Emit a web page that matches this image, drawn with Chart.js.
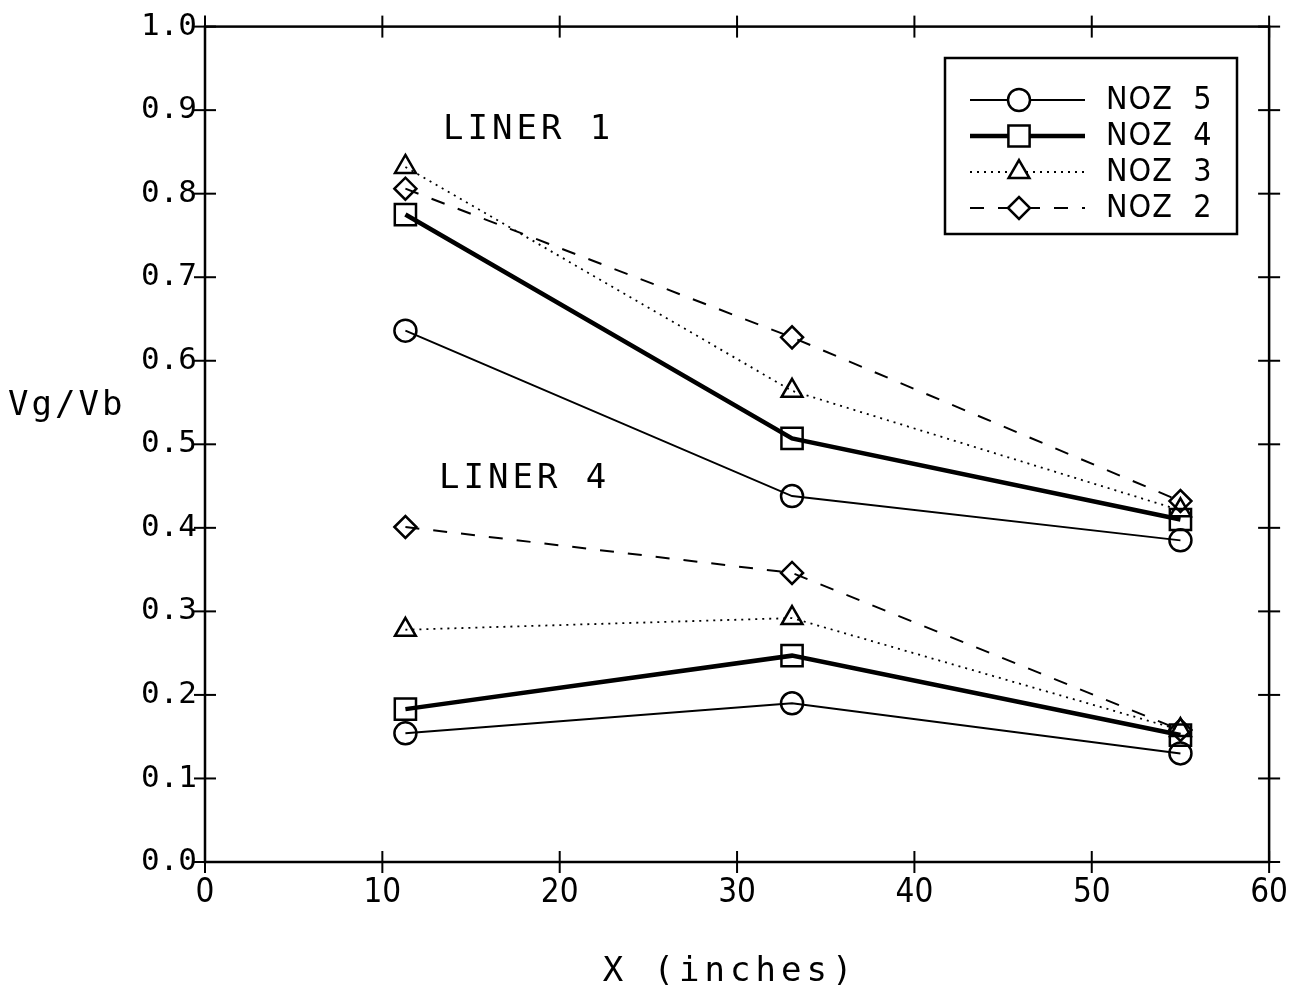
<!DOCTYPE html>
<html><head><meta charset="utf-8">
<script src="https://cdn.jsdelivr.net/npm/chart.js@4/dist/chart.umd.min.js"></script>
<style>html,body{margin:0;padding:0;background:#fff}#wrap{width:1300px;height:996px}</style>
</head><body><div id="wrap"><canvas id="c" width="1300" height="996"></canvas></div>
<script>
const xPositions = [11.3, 33.1, 55.0];
const seriesNames = ['NOZ 5', 'NOZ 4', 'NOZ 3', 'NOZ 2'];
const liner1_noz5 = [0.636, 0.438, 0.385];
const liner1_noz4 = [0.775, 0.507, 0.410];
const liner1_noz3 = [0.832, 0.564, 0.421];
const liner1_noz2 = [0.806, 0.628, 0.432];
const liner4_noz5 = [0.154, 0.190, 0.130];
const liner4_noz4 = [0.183, 0.247, 0.152];
const liner4_noz3 = [0.278, 0.292, 0.158];
const liner4_noz2 = [0.401, 0.346, 0.158];
const xTicks = [0, 10, 20, 30, 40, 50, 60];
const yTicks = [0, 0.1, 0.2, 0.3, 0.4, 0.5, 0.6, 0.7, 0.8, 0.9, 1.0];
const groupLabels = ['LINER 1', 'LINER 4'];

const styles = {
  'NOZ 5': {pointStyle: 'circle', radius: 11, borderWidth: 2, dash: []},
  'NOZ 4': {pointStyle: 'rect', radius: 15, borderWidth: 4.5, dash: []},
  'NOZ 3': {pointStyle: 'triangle', radius: 12, borderWidth: 1.8, dash: [2, 5]},
  'NOZ 2': {pointStyle: 'rectRot', radius: 11, borderWidth: 2, dash: [14, 14]}
};
function pts(vals){ return vals.map((v,i)=>({x:xPositions[i], y:v})); }
function ds(name, vals, group){
  const s = styles[name];
  return {label: name, group: group, data: pts(vals), borderColor:'#000', backgroundColor:'rgba(0,0,0,0)',
    borderWidth: s.borderWidth, borderDash: s.dash, pointStyle: s.pointStyle, pointRadius: s.radius,
    pointBorderWidth: 2.5, pointBorderColor:'#000', pointBackgroundColor:'rgba(0,0,0,0)', tension:0, fill:false};
}
const datasets = [
  ds('NOZ 5', liner1_noz5, 1), ds('NOZ 4', liner1_noz4, 1), ds('NOZ 3', liner1_noz3, 1), ds('NOZ 2', liner1_noz2, 1),
  ds('NOZ 5', liner4_noz5, 4), ds('NOZ 4', liner4_noz4, 4), ds('NOZ 3', liner4_noz3, 4), ds('NOZ 2', liner4_noz2, 4)
];

const decor = {
  id: 'decor',
  afterDraw(chart){
    const ctx = chart.ctx, a = chart.chartArea, xs = chart.scales.x, ys = chart.scales.y;
    ctx.save();
    ctx.strokeStyle = '#000'; ctx.lineWidth = 2.5; ctx.setLineDash([]);
    ctx.strokeRect(a.left, a.top, a.right - a.left, a.bottom - a.top);
    ctx.lineWidth = 2;
    const t = 11;
    xTicks.forEach(v => {
      const px = xs.getPixelForValue(v);
      ctx.beginPath(); ctx.moveTo(px, a.bottom - t); ctx.lineTo(px, a.bottom + t); ctx.stroke();
      ctx.beginPath(); ctx.moveTo(px, a.top - t); ctx.lineTo(px, a.top + t); ctx.stroke();
    });
    yTicks.forEach(v => {
      const py = ys.getPixelForValue(v);
      ctx.beginPath(); ctx.moveTo(a.left - t, py); ctx.lineTo(a.left + t, py); ctx.stroke();
      ctx.beginPath(); ctx.moveTo(a.right - t, py); ctx.lineTo(a.right + t, py); ctx.stroke();
    });
    // texts
    ctx.fillStyle = '#000';
    ctx.textBaseline = 'middle';
    ctx.font = '34px "DejaVu Sans Mono"';
    ctx.letterSpacing = '4px';
    ctx.textAlign = 'left';
    ctx.fillText(groupLabels[0], 443, 130);
    ctx.fillText(groupLabels[1], 439, 479);
    ctx.letterSpacing = '3px';
    ctx.fillText('Vg/Vb', 8, 406);
    ctx.textAlign = 'center';
    ctx.letterSpacing = '5px';
    ctx.fillText('X (inches)', 730, 972);
    ctx.letterSpacing = '0px';
    // legend
    const lb = {x: 945, y: 58, w: 292, h: 176};
    ctx.lineWidth = 2.5;
    ctx.strokeRect(lb.x, lb.y, lb.w, lb.h);
    const rows = [100, 136, 172, 208];
    seriesNames.forEach((name, i) => {
      const s = styles[name], y = rows[i];
      ctx.strokeStyle = '#000';
      ctx.lineWidth = s.borderWidth; ctx.setLineDash(s.dash);
      ctx.beginPath(); ctx.moveTo(970, y); ctx.lineTo(1085, y); ctx.stroke();
      ctx.setLineDash([]);
      ctx.lineWidth = 2.5;
      ctx.fillStyle = '#fff';
      Chart.helpers.drawPoint(ctx, {pointStyle: s.pointStyle, radius: s.radius, rotation: 0, borderWidth: 2.5}, 1019, y);
      ctx.fillStyle = '#000';
      ctx.font = '32px "DejaVu Sans Condensed"';
      ctx.textAlign = 'left';
      ctx.letterSpacing = '1px';
      ctx.fillText(name.replace(' ', '  '), 1106, y + 1);
      ctx.letterSpacing = '0px';
    });
    ctx.restore();
  }
};

new Chart(document.getElementById('c'), {
  type: 'line',
  data: {datasets},
  options: {
    responsive: false, animation: false, devicePixelRatio: 1,
    layout: {padding: {top: 25, right: 28, left: 0, bottom: 0}},
    plugins: {legend: {display: false}, tooltip: {enabled: false}},
    scales: {
      x: {type: 'linear', min: 0, max: 60,
        afterFit(s){ s.height = 134; },
        afterBuildTicks(s){ s.ticks = xTicks.map(v => ({value: v})); },
        grid: {display: false, drawTicks: false}, border: {display: false},
        ticks: {padding: 12, color: '#000', font: {family: '"DejaVu Sans Condensed"', size: 33}, maxRotation: 0,
          callback: v => String(v)}},
      y: {type: 'linear', min: 0, max: 1,
        afterFit(s){ s.width = 205; },
        afterBuildTicks(s){ s.ticks = yTicks.map(v => ({value: v})); },
        grid: {display: false, drawTicks: false}, border: {display: false},
        ticks: {padding: 8, color: '#000', font: {family: '"DejaVu Sans Mono"', size: 31},
          callback: v => Number(v).toFixed(1)}}
    }
  },
  plugins: [decor]
});
</script></body></html>
